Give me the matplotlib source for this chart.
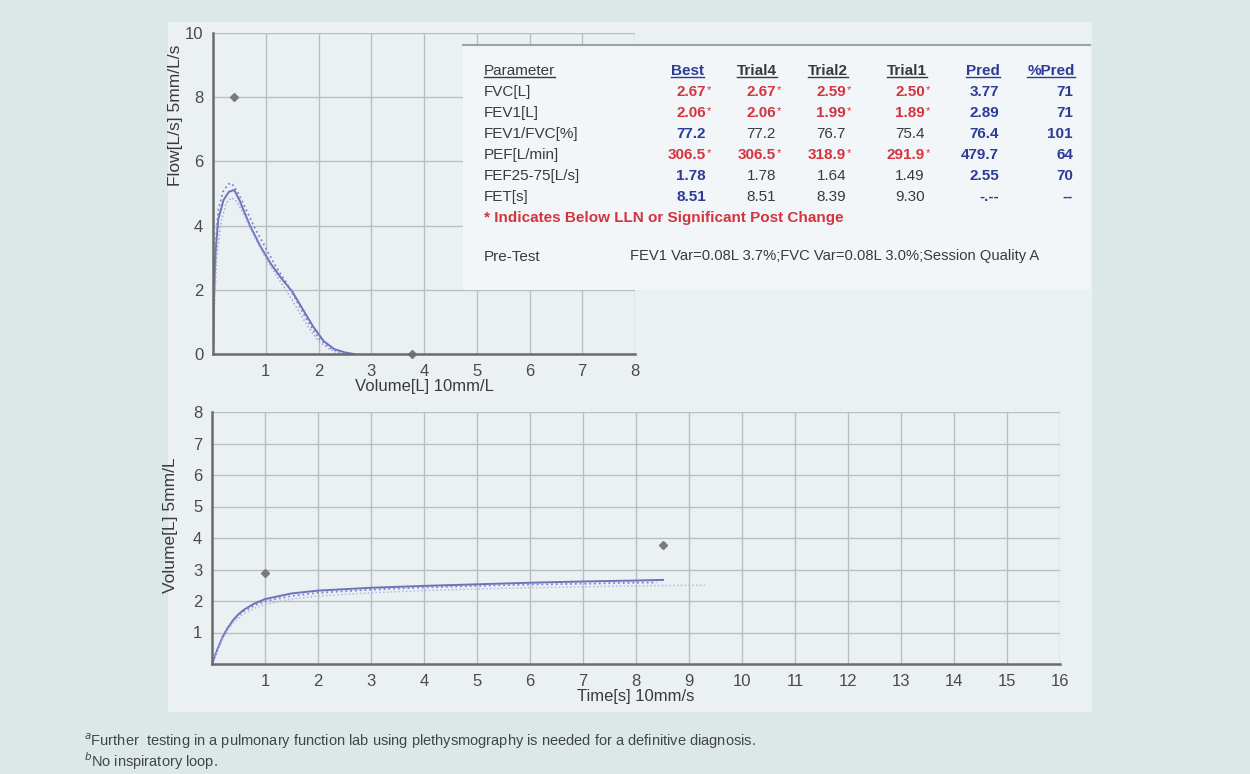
import matplotlib
matplotlib.use("Agg")
import matplotlib.pyplot as plt
from matplotlib import font_manager
from matplotlib.patches import Rectangle
from matplotlib.lines import Line2D

W, H = 1250, 774

# flow-volume loops (volume L, flow L/s)
fv_vol_t4 = [0, 0.02, 0.05, 0.1, 0.2, 0.3, 0.4, 0.5, 0.7, 0.9, 1.1, 1.3, 1.5, 1.7, 1.9, 2.1, 2.3, 2.5, 2.67]
fv_flow_t4 = [0, 1.8, 3.2, 4.2, 4.8, 5.05, 5.11, 4.8, 4.0, 3.35, 2.8, 2.35, 1.95, 1.4, 0.85, 0.4, 0.15, 0.05, 0]
fv_vol_t2 = [0, 0.02, 0.05, 0.1, 0.2, 0.3, 0.35, 0.45, 0.6, 0.8, 1.0, 1.2, 1.4, 1.6, 1.8, 2.0, 2.2, 2.4, 2.59]
fv_flow_t2 = [0, 2.0, 3.5, 4.5, 5.1, 5.3, 5.32, 5.1, 4.6, 3.9, 3.3, 2.7, 2.2, 1.6, 1.0, 0.5, 0.2, 0.06, 0]
fv_vol_t1 = [0, 0.03, 0.07, 0.15, 0.25, 0.35, 0.45, 0.6, 0.8, 1.0, 1.2, 1.4, 1.6, 1.8, 2.0, 2.2, 2.35, 2.5]
fv_flow_t1 = [0, 1.6, 3.0, 4.1, 4.7, 4.87, 4.75, 4.3, 3.6, 3.0, 2.45, 1.95, 1.4, 0.85, 0.4, 0.15, 0.05, 0]
fv_pred_vol = [0.4, 3.77]
fv_pred_flow = [8.0, 0.0]

# volume-time curves (time s, volume L)
vt_time_t4 = [0, 0.1, 0.2, 0.3, 0.4, 0.5, 0.6, 0.8, 1.0, 1.5, 2, 3, 4, 5, 6, 7, 8, 8.51]
vt_vol_t4 = [0, 0.45, 0.85, 1.15, 1.4, 1.58, 1.72, 1.92, 2.06, 2.24, 2.33, 2.42, 2.48, 2.53, 2.58, 2.62, 2.65, 2.67]
vt_time_t2 = [0, 0.1, 0.2, 0.3, 0.4, 0.5, 0.6, 0.8, 1.0, 1.5, 2, 3, 4, 5, 6, 7, 8, 8.39]
vt_vol_t2 = [0, 0.48, 0.88, 1.17, 1.38, 1.54, 1.67, 1.86, 1.99, 2.16, 2.26, 2.36, 2.43, 2.48, 2.52, 2.55, 2.58, 2.59]
vt_time_t1 = [0, 0.1, 0.2, 0.3, 0.4, 0.5, 0.6, 0.8, 1.0, 1.5, 2, 3, 4, 5, 6, 7, 8, 9, 9.3]
vt_vol_t1 = [0, 0.42, 0.8, 1.08, 1.3, 1.45, 1.58, 1.77, 1.89, 2.06, 2.16, 2.26, 2.33, 2.38, 2.42, 2.45, 2.48, 2.5, 2.5]
vt_pred_time = [1.0, 8.5]
vt_pred_vol = [2.89, 3.77]

# results table
headers = ["Best", "Trial4", "Trial2", "Trial1", "Pred", "%Pred"]
params = ["FVC[L]", "FEV1[L]", "FEV1/FVC[%]", "PEF[L/min]", "FEF25-75[L/s]", "FET[s]"]
best = ["2.67*", "2.06*", "77.2", "306.5*", "1.78", "8.51"]
trial4 = ["2.67*", "2.06*", "77.2", "306.5*", "1.78", "8.51"]
trial2 = ["2.59*", "1.99*", "76.7", "318.9*", "1.64", "8.39"]
trial1 = ["2.50*", "1.89*", "75.4", "291.9*", "1.49", "9.30"]
pred = ["3.77", "2.89", "76.4", "479.7", "2.55", "-.--"]
pct_pred = ["71", "71", "101", "64", "70", "--"]

names = {f.name for f in font_manager.fontManager.ttflist}
FONT = "Liberation Sans Narrow" if "Liberation Sans Narrow" in names else "Liberation Sans"
plt.rcParams["font.family"] = [FONT, "DejaVu Sans"]

RED = "#d3343e"
BLUE = "#2e3b96"
DARK = "#3a3a3a"
GRID = "#b8bec3"
SPINE = "#6b6b6b"


def fx(x):
    return x / W


def fy(y):
    return 1 - y / H


fig = plt.figure(figsize=(W / 100, H / 100), dpi=100, facecolor="#dce8e8")

# light inner panel
fig.patches.append(Rectangle((fx(168), fy(712)), (1092 - 168) / W, (712 - 22) / H,
                             transform=fig.transFigure, facecolor="#ebf1f3",
                             edgecolor="none", zorder=-5))


def style_axes(ax):
    ax.set_facecolor("none")
    for s in ["top", "right"]:
        ax.spines[s].set_visible(False)
    for s in ["left", "bottom"]:
        ax.spines[s].set_color(SPINE)
        ax.spines[s].set_linewidth(1.8)
    ax.grid(True, color=GRID, lw=1.0)
    ax.set_axisbelow(True)
    ax.tick_params(length=0, labelsize=12, labelcolor="#4a4a4a", pad=7)


# flow-volume plot
ax1 = fig.add_axes([fx(213), fy(354), (635 - 213) / W, (354 - 33) / H])
style_axes(ax1)
ax1.set_xlim(0, 8)
ax1.set_ylim(0, 10)
ax1.set_xticks(range(1, 9))
ax1.set_yticks(range(0, 11, 2))
ax1.plot(fv_vol_t4, fv_flow_t4, color="#6c73b9", lw=1.4)
ax1.plot(fv_vol_t2, fv_flow_t2, color="#7c83cc", lw=1.3, ls=":")
ax1.plot(fv_vol_t1, fv_flow_t1, color="#a0a6de", lw=1.1, ls=(0, (1, 1.5)))
ax1.plot(fv_pred_vol, fv_pred_flow, "D", ms=4, color="#7a7a7a", clip_on=False)
ax1.set_xlabel("Volume[L] 10mm/L", fontsize=12, color=DARK, labelpad=0)
ax1.set_ylabel("Flow[L/s] 5mm/L/s", fontsize=12.5, color=DARK)
ax1.yaxis.set_label_coords(-0.072, 0.745)

# volume-time plot
ax2 = fig.add_axes([fx(212), fy(664), (1060 - 212) / W, (664 - 412) / H])
style_axes(ax2)
ax2.set_xlim(0, 16)
ax2.set_ylim(0, 8)
ax2.set_xticks(range(1, 17))
ax2.set_yticks(range(1, 9))
ax2.plot(vt_time_t4, vt_vol_t4, color="#6c73b9", lw=1.4)
ax2.plot(vt_time_t2, vt_vol_t2, color="#7c83cc", lw=1.3, ls=":")
ax2.plot(vt_time_t1, vt_vol_t1, color="#b4b9e4", lw=1.1, ls=(0, (1, 1.5)))
ax2.plot(vt_pred_time, vt_pred_vol, "D", ms=4, color="#7a7a7a")
ax2.set_xlabel("Time[s] 10mm/s", fontsize=12, color=DARK, labelpad=0)
ax2.set_ylabel("Volume[L] 5mm/L", fontsize=12.5, color=DARK)
ax2.yaxis.set_label_coords(-0.04, 0.55)

# table box on top of the flow-volume grid
fig.patches.append(Rectangle((fx(463), fy(290)), (1090 - 463) / W, (290 - 45) / H,
                             transform=fig.transFigure, facecolor="#f2f6f8",
                             edgecolor="none", zorder=5))
fig.lines.append(Line2D([fx(463), fx(1090)], [fy(45), fy(45)], transform=fig.transFigure,
                        color="#9aa3a8", lw=1.5, zorder=6))

FS = 11
row_y = [92, 113, 134, 155, 176, 197]
col_right = [706, 776, 846, 925, 999, 1073]
head_x = [687, 757, 828, 907, 983, 1051]
head_col = [BLUE, DARK, DARK, DARK, BLUE, BLUE]

header_texts = []
t = fig.text(fx(484), fy(71), "Parameter", fontsize=FS, color=DARK, va="center", ha="left", zorder=7)
header_texts.append(t)
for h, x, c in zip(headers, head_x, head_col):
    t = fig.text(fx(x), fy(71), h, fontsize=FS, color=c, fontweight="bold",
                 va="center", ha="center", zorder=7)
    header_texts.append(t)

for p, y in zip(params, row_y):
    fig.text(fx(484), fy(y), p, fontsize=FS, color=DARK, va="center", ha="left", zorder=7)

columns = [best, trial4, trial2, trial1, pred, pct_pred]
for ci, (col, xr) in enumerate(zip(columns, col_right)):
    for v, y in zip(col, row_y):
        flagged = v.endswith("*")
        num = v.rstrip("*")
        if flagged:
            color, weight = RED, "bold"
        elif ci in (0, 4, 5):
            color, weight = BLUE, "bold"
        else:
            color, weight = DARK, "normal"
        fig.text(fx(xr), fy(y), num, fontsize=FS, color=color, fontweight=weight,
                 va="center", ha="right", zorder=7)
        if flagged:
            fig.text(fx(xr + 1), fy(y - 2), "*", fontsize=8, color=RED,
                     va="center", ha="left", zorder=7)

fig.text(fx(484), fy(218), "* Indicates Below LLN or Significant Post Change", fontsize=FS,
         color=RED, fontweight="bold", va="center", ha="left", zorder=7)
fig.text(fx(484), fy(257), "Pre-Test", fontsize=FS, color=DARK, va="center", ha="left", zorder=7)
fig.text(fx(630), fy(256), "FEV1 Var=0.08L 3.7%;FVC Var=0.08L 3.0%;Session Quality A",
         fontsize=10.6, color=DARK, va="center", ha="left", zorder=7)

# underline the table headers
fig.canvas.draw()
renderer = fig.canvas.get_renderer()
inv = fig.transFigure.inverted()
for t in header_texts:
    bb = t.get_window_extent(renderer)
    (x0, y0), (x1, _) = inv.transform([[bb.x0, bb.y0], [bb.x1, bb.y1]])
    fig.lines.append(Line2D([x0, x1], [y0 + 0.001, y0 + 0.001], transform=fig.transFigure,
                            color=t.get_color(), lw=1.0, zorder=7))

# footnotes
fig.text(fx(84), fy(741), r"$^{a}$Further  testing in a pulmonary function lab using plethysmography is needed for a definitive diagnosis.",
         fontsize=10.5, color="#444444", va="center", ha="left")
fig.text(fx(84), fy(761), r"$^{b}$No inspiratory loop.", fontsize=10.5, color="#444444",
         va="center", ha="left")

fig.savefig("out.png", dpi=100, facecolor=fig.get_facecolor())
